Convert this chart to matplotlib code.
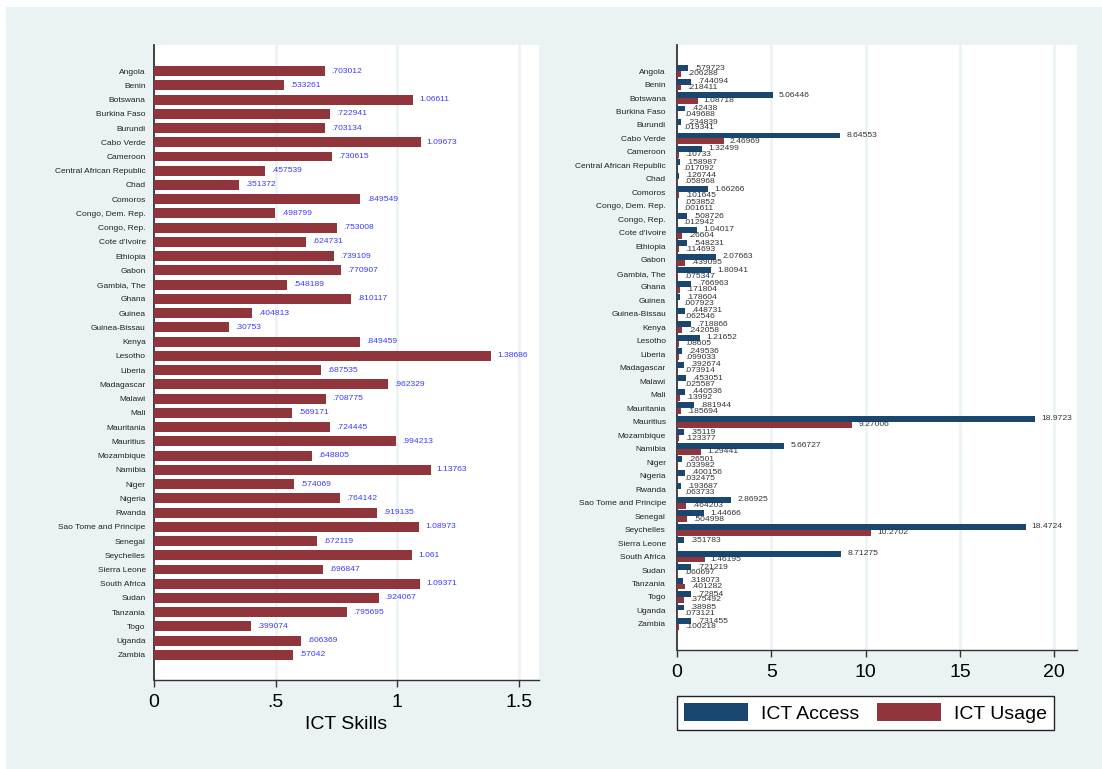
import matplotlib
matplotlib.use("Agg")
import matplotlib.pyplot as plt
import numpy as np
from matplotlib.patches import Rectangle, Patch

plt.rcParams['font.family'] = ['Liberation Sans', 'DejaVu Sans']

countries = ["Angola", "Benin", "Botswana", "Burkina Faso", "Burundi", "Cabo Verde",
             "Cameroon", "Central African Republic", "Chad", "Comoros", "Congo, Dem. Rep.",
             "Congo, Rep.", "Cote d'Ivoire", "Ethiopia", "Gabon", "Gambia, The", "Ghana",
             "Guinea", "Guinea-Bissau", "Kenya", "Lesotho", "Liberia", "Madagascar", "Malawi",
             "Mali", "Mauritania", "Mauritius", "Mozambique", "Namibia", "Niger", "Nigeria",
             "Rwanda", "Sao Tome and Principe", "Senegal", "Seychelles", "Sierra Leone",
             "South Africa", "Sudan", "Tanzania", "Togo", "Uganda", "Zambia"]

ict_skills = [0.703012, 0.533261, 1.06611, 0.722941, 0.703134, 1.09673, 0.730615, 0.457539,
              0.351372, 0.849549, 0.498799, 0.753008, 0.624731, 0.739109, 0.770907, 0.548189,
              0.810117, 0.404813, 0.30753, 0.849459, 1.38686, 0.687535, 0.962329, 0.708775,
              0.569171, 0.724445, 0.994213, 0.648805, 1.13763, 0.574069, 0.764142, 0.919135,
              1.08973, 0.672119, 1.061, 0.696847, 1.09371, 0.924067, 0.795695, 0.399074,
              0.606369, 0.57042]

ict_access = [0.579723, 0.744094, 5.06446, 0.42438, 0.234839, 8.64553, 1.32499, 0.158987,
              0.126744, 1.66266, 0.053852, 0.508726, 1.04017, 0.548231, 2.07663, 1.80941,
              0.766963, 0.178604, 0.448731, 0.718866, 1.21652, 0.249536, 0.392674, 0.453051,
              0.440536, 0.881944, 18.9723, 0.35119, 5.66727, 0.26501, 0.400156, 0.193687,
              2.86925, 1.44666, 18.4724, 0.351783, 8.71275, 0.721219, 0.318073, 0.72854,
              0.38985, 0.731455]

ict_usage = [0.206288, 0.218411, 1.08718, 0.049688, 0.019341, 2.46969, 0.10733, 0.017092,
             0.058968, 0.101645, 0.001611, 0.012942, 0.26604, 0.114693, 0.439095, 0.075347,
             0.171804, 0.007923, 0.062546, 0.242058, 0.08605, 0.099033, 0.073914, 0.025587,
             0.13992, 0.185694, 9.27006, 0.123377, 1.29441, 0.033982, 0.032475, 0.063733,
             0.464203, 0.504998, 10.2702, np.nan, 1.46195, 0.060697, 0.401282, 0.375492,
             0.073121, 0.100218]

left_ticks = [0, 0.5, 1, 1.5]
left_ticklabels = ["0", ".5", "1", "1.5"]
right_ticks = [0, 5, 10, 15, 20]
right_ticklabels = ["0", "5", "10", "15", "20"]

NAVY = "#1a476f"
MAROON = "#90353b"
BG = "#eaf2f3"
GRID = "#eaf2f3"

W, H = 1102, 769


def fmt(v):
    s = f"{v:.6g}"
    if s.startswith("0."):
        s = s[1:]
    return s


fig = plt.figure(figsize=(W / 100, H / 100), dpi=100)
fig.patch.set_facecolor("white")
fig.patches.append(Rectangle((6 / W, 0), 1 - 6 / W, 1 - 7 / H, transform=fig.transFigure,
                             facecolor=BG, edgecolor="none", zorder=-10))


def px_axes(x0, y0, x1, y1):
    return fig.add_axes([x0 / W, 1 - y1 / H, (x1 - x0) / W, (y1 - y0) / H])


n = len(countries)
pos = np.arange(n)
LBL = 6.0
VAL = 6.1

# Left panel
ax1 = px_axes(154, 45, 539, 680)
ax1.set_facecolor("white")
ax1.barh(pos, ict_skills, height=0.7, color=MAROON, zorder=3)
for i, v in enumerate(ict_skills):
    ax1.annotate(fmt(v), (v, i), xytext=(4.5, 0), textcoords="offset points",
                 va="center", ha="left", fontsize=VAL, color="#3a3aff", zorder=4)
ax1.set_xlim(0, 1.584)
ax1.set_ylim(n - 1 + 1.76, -1.83)
ax1.set_yticks(pos)
ax1.set_yticklabels(countries, fontsize=LBL, color="#222222")
ax1.tick_params(axis="y", length=0, pad=6)
ax1.set_xticks(left_ticks)
ax1.set_xticklabels(left_ticklabels, fontsize=14)
ax1.tick_params(axis="x", length=5, width=1, pad=5, color="#333333")
ax1.set_xlabel("ICT Skills", fontsize=14, labelpad=4)
for t in left_ticks[1:]:
    ax1.axvline(t, color=GRID, lw=1.8, zorder=1)
for s in ["top", "right"]:
    ax1.spines[s].set_visible(False)
ax1.spines["left"].set_color("#222222")
ax1.spines["bottom"].set_color("#333333")
ax1.spines["left"].set_linewidth(1.2)
ax1.spines["bottom"].set_linewidth(1.0)

# Right panel
ax2 = px_axes(677, 45, 1077, 650)
ax2.set_facecolor("white")
bh = 0.44
ax2.barh(pos - bh / 2, ict_access, height=bh, color=NAVY, zorder=3)
ax2.barh(pos + bh / 2, ict_usage, height=bh, color=MAROON, zorder=3)
for i, (a, u) in enumerate(zip(ict_access, ict_usage)):
    ax2.annotate(fmt(a), (a, i - bh / 2), xytext=(4.5, 0), textcoords="offset points",
                 va="center", ha="left", fontsize=VAL, color="#333333", zorder=4)
    if not np.isnan(u):
        ax2.annotate(fmt(u), (u, i + bh / 2), xytext=(4.5, 0), textcoords="offset points",
                     va="center", ha="left", fontsize=VAL, color="#333333", zorder=4)
ax2.set_xlim(0, 21.2)
ax2.set_ylim(n - 1 + 1.93, -1.93)
ax2.set_yticks(pos)
ax2.set_yticklabels(countries, fontsize=LBL, color="#222222")
ax2.tick_params(axis="y", length=0, pad=8)
ax2.set_xticks(right_ticks)
ax2.set_xticklabels(right_ticklabels, fontsize=14)
ax2.tick_params(axis="x", length=5, width=1, pad=5, color="#333333")
for t in right_ticks[1:]:
    ax2.axvline(t, color=GRID, lw=1.8, zorder=1)
for s in ["top", "right"]:
    ax2.spines[s].set_visible(False)
ax2.spines["left"].set_color("#222222")
ax2.spines["bottom"].set_color("#333333")
ax2.spines["left"].set_linewidth(1.2)
ax2.spines["bottom"].set_linewidth(1.0)

handles = [Patch(facecolor=NAVY, edgecolor="none", label="ICT Access"),
           Patch(facecolor=MAROON, edgecolor="none", label="ICT Usage")]
leg = fig.legend(handles=handles, loc="center", ncol=2,
                 bbox_to_anchor=((678 + 1053) / 2 / W, 1 - 713 / H),
                 fontsize=14, frameon=True, fancybox=False, framealpha=1,
                 edgecolor="#222222", facecolor="white",
                 handlelength=3.3, handleheight=1.0, handletextpad=0.65,
                 columnspacing=0.9, borderpad=0.4, borderaxespad=0)
leg.get_frame().set_linewidth(1.0)

fig.savefig("out.png", dpi=100, facecolor=fig.get_facecolor())
